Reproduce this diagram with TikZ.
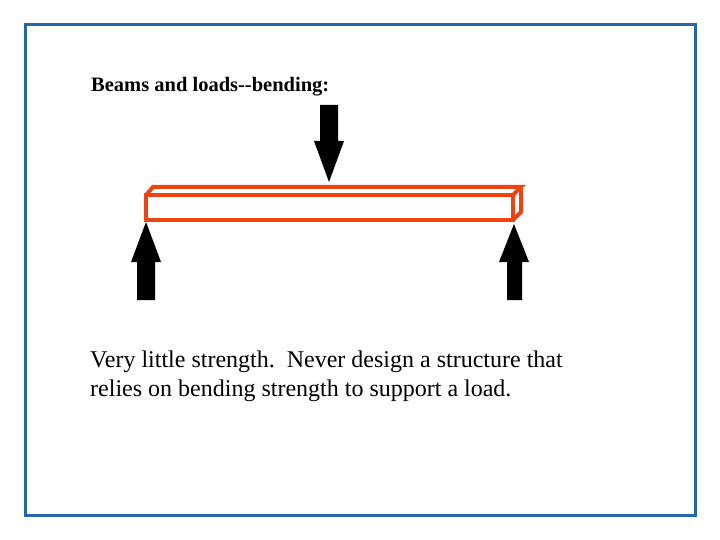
\documentclass[tikz,border=0pt]{standalone}
\usepackage{fontspec}
\setmainfont{Liberation Serif}
\definecolor{framecol}{HTML}{2466B0}
\definecolor{beamcol}{HTML}{EE4312}
\begin{document}
\begin{tikzpicture}[x=1pt,y=-1pt,
  beam/.style = {draw=beamcol,line width=4pt,line join=miter},
  force/.style = {fill=black},
  label/.style = {anchor=base west,inner sep=0pt}]
\useasboundingbox (0,0) rectangle (720,540);
\draw[framecol,line width=3pt] (25,25) rectangle (695,515);
\node[label,font=\bfseries\fontsize{20.5}{24}\selectfont] (title) at (91,92) {Beams and loads-{}-bending:};
% beam
\draw[beam] (146,195) rectangle (513,220);
\draw[beam] (146,195) -- (153,187) -- (521,187) -- (513,195);
\draw[beam] (521,187) -- (521,212) -- (513,220);
% loads
\fill[force] (320,105) -- (338,105) -- (338,141) -- (344,141) -- (329,182) -- (314,141) -- (320,141) -- cycle;
\fill[force] (137,300) -- (155,300) -- (155,262) -- (161,262) -- (146,222) -- (131,262) -- (137,262) -- cycle;
\fill[force] (507,300) -- (522,300) -- (522,262) -- (529,262) -- (514,224) -- (499,262) -- (507,262) -- cycle;
\node[label,font=\fontsize{24}{29}\selectfont,align=left] (text) at (90,396) {Very little strength.\ \ Never design a structure that\\relies on bending strength to support a load.};
\end{tikzpicture}
\end{document}
